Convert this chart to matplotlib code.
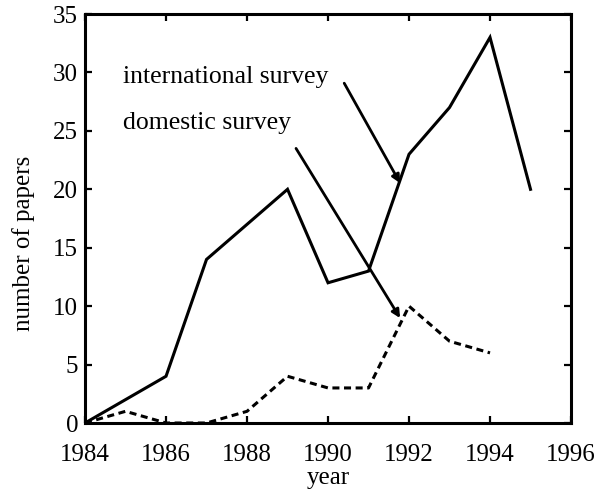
import matplotlib
matplotlib.use("Agg")
import matplotlib.pyplot as plt

years_int = [1984, 1985, 1986, 1987, 1988, 1989, 1990, 1991, 1992, 1993, 1994, 1995]
international = [0, 2, 4, 14, 17, 20, 12, 13, 23, 27, 33, 20]
years_dom = [1984, 1985, 1986, 1987, 1988, 1989, 1990, 1991, 1992, 1993, 1994]
domestic = [0, 1, 0, 0, 1, 4, 3, 3, 10, 7, 6]
xticks = [1984, 1986, 1988, 1990, 1992, 1994, 1996]
yticks = [0, 5, 10, 15, 20, 25, 30, 35]

plt.rcParams['font.family'] = ['Liberation Serif', 'DejaVu Serif']

fig = plt.figure(figsize=(6.0, 4.99), dpi=100)
ax = fig.add_axes([0.1417, 0.1523, 0.81, 0.8196])
ax.plot(years_int, international, color='black', lw=2.2, solid_joinstyle='miter')
ax.plot(years_dom, domestic, color='black', lw=2.2, ls=(0, (2.3, 1.5)))
ax.set_xlim(1984, 1996)
ax.set_ylim(0, 35)
ax.set_xticks(xticks)
ax.set_yticks(yticks)
ax.tick_params(axis='both', direction='in', top=True, right=True, length=5, width=1.6, labelsize=18)
ax.tick_params(axis='x', pad=15)
ax.tick_params(axis='y', pad=5)
for s in ax.spines.values():
    s.set_linewidth(2.2)
ax.set_xlabel('year', fontsize=18, labelpad=1)
ax.set_ylabel('number of papers', fontsize=18)
ax.yaxis.set_label_coords(-0.103, 0.44)

arrow = dict(arrowstyle='-|>', color='black', lw=2.0, mutation_scale=12, shrinkA=0, shrinkB=0)
ax.text(1984.93, 29.08, 'international survey', fontsize=18.5, va='baseline', ha='left')
ax.annotate('', xy=(1991.78, 20.53), xytext=(1990.40, 29.08), arrowprops=arrow)
ax.text(1984.93, 25.2, 'domestic survey', fontsize=18.5, va='baseline', ha='left')
ax.annotate('', xy=(1991.78, 8.98), xytext=(1989.21, 23.5), arrowprops=arrow)

fig.savefig('out.png', dpi=100)
